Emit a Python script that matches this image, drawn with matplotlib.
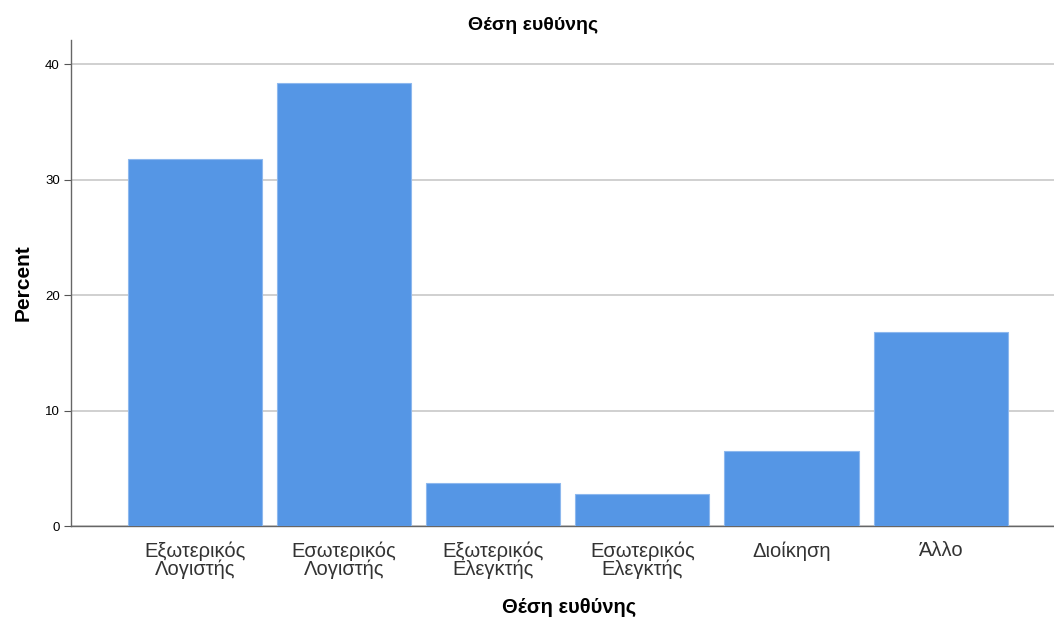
import numpy as np
import matplotlib.pyplot as plt

plt.rcParams['font.family'] = ['Liberation Sans', 'DejaVu Sans']

categories = ['Εξωτερικός\nΛογιστής', 'Εσωτερικός\nΛογιστής', 'Εξωτερικός\nΕλεγκτής',
              'Εσωτερικός\nΕλεγκτής', 'Διοίκηση', 'Άλλο']
percent = [31.8, 38.4, 3.7, 2.8, 6.5, 16.8]
yticks = [0, 10, 20, 30, 40]

fig = plt.figure(figsize=(10.54, 6.19), dpi=100)
ax = fig.add_axes([0.0674, 0.1502, 0.9326, 0.7852])

x = np.arange(len(categories))
ax.bar(x, percent, width=0.9, color='#5596E5', edgecolor='#8DB8EE', linewidth=0.8, zorder=3)

ax.set_xlim(-0.83, 5.76)
ax.set_ylim(0, 42.1)
ax.set_yticks(yticks)
ax.set_xticks(x)
ax.set_xticklabels(categories, fontsize=14.5, color='#333333', linespacing=0.92)
ax.tick_params(axis='x', length=0, pad=11)
ax.tick_params(axis='y', labelsize=9.5, length=5, color='#555555', pad=3)
ax.yaxis.grid(True, color='#C8C8C8', linewidth=1.2, zorder=0)

for s in ['top', 'right']:
    ax.spines[s].set_visible(False)
for s in ['left', 'bottom']:
    ax.spines[s].set_color('#666666')
    ax.spines[s].set_linewidth(1.0)

fig.text(533 / 1054, 1 - 25 / 619, 'Θέση ευθύνης', fontsize=14, fontweight='bold',
         ha='center', va='center')
ax.set_xlabel('Θέση ευθύνης', fontsize=14.5, fontweight='bold', va='center')
ax.xaxis.set_label_coords((569 - 71) / (1054 - 71), -(607 - 526) / 486)
ax.set_ylabel('Percent', fontsize=15, fontweight='bold', labelpad=9)

fig.savefig('out.png', dpi=100)
